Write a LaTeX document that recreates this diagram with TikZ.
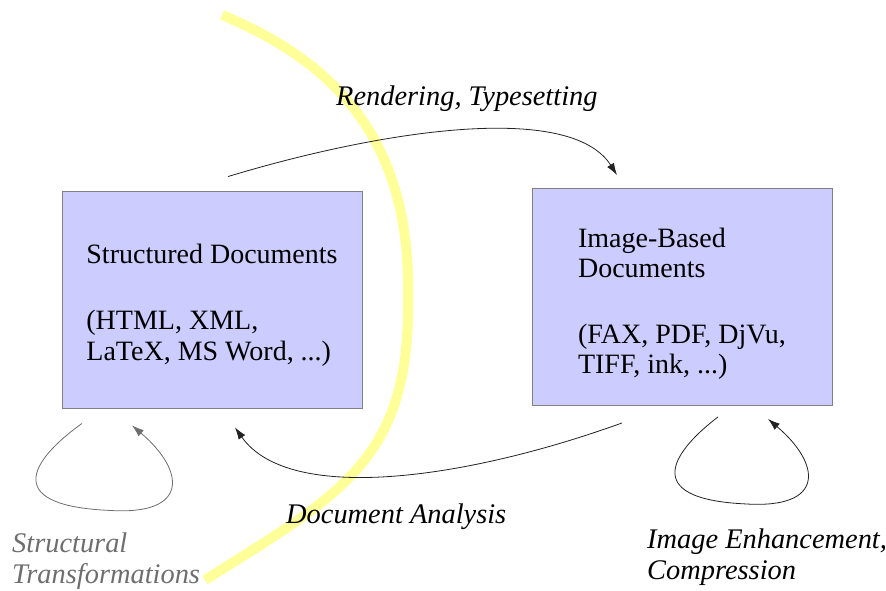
\documentclass[tikz,border=0pt]{standalone}
\usepackage{fontspec}
\setmainfont{Liberation Serif}
\usepackage{xcolor}
\usetikzlibrary{arrows.meta}

\definecolor{boxfill}{HTML}{CCCCFF}
\definecolor{boxline}{HTML}{808080}
\definecolor{marker}{HTML}{FFFF99}
\definecolor{ink}{HTML}{222222}
\definecolor{greyink}{HTML}{6E6E6E}

\begin{document}
\begin{tikzpicture}[x=1pt, y=-1pt,
     box/.style={rectangle, draw=boxline, line width=0.9pt, fill=boxfill, minimum width=300pt, minimum height=217pt, align=left, font=\fontsize{28}{31}\selectfont},
     lbl/.style={anchor=west, inner sep=0pt, align=left, font=\fontsize{28.4}{31}\selectfont\itshape},
     flow/.style={draw=ink, line width=0.8pt, -{Latex[length=12pt, width=8pt]}}]
     \useasboundingbox (0,0) rectangle (886,591);

     \draw[marker, line width=10pt] (222,15) .. controls (335,62) and (412,140) .. (408,300) .. controls (410,460) and (340,495) .. (205,580);

     \node[box] (S) at (212,299.5) {\rule{0pt}{30pt}Structured Documents\\[35pt](HTML, XML,\\LaTeX, MS Word, ...)};
     \node[box, font=\fontsize{28}{30}\selectfont] (I) at (682,297) {\rule{0pt}{32pt}Image-Based\\Documents\\[36pt](FAX, PDF, DjVu,\hspace*{8pt}\\TIFF, ink, ...)};

     \node[lbl] (R) at (336,99) {Rendering, Typesetting};
     \node[lbl] (D) at (286,517) {Document Analysis};
     \node[lbl, text=greyink] (T) at (12,561) {Structural\\Transformations};
     \node[lbl] (E) at (647,557) {Image Enhancement,\\Compression};

     \draw[flow] ([shift={(16,-14)}]S.north) .. controls +(152,-46) and +(-47,-74) .. ([shift={(-65,-13)}]I.north);
     \draw[flow] ([shift={(-60,17)}]I.south) .. controls +(-152,55) and +(55,78) .. ([shift={(23,19)}]S.south);
     \draw[flow, draw=greyink] ([shift={(-130,15)}]S.south) .. controls +(-45,32) and +(-115,-5) .. ++(28,87) .. controls +(80,5) and +(53,45) .. ([shift={(-80,17)}]S.south);
     \draw[flow] ([shift={(36,11)}]I.south) .. controls +(-42,32) and +(-110,-5) .. ++(28,87) .. controls +(80,5) and +(53,45) .. ([shift={(86,13)}]I.south);
\end{tikzpicture}
\end{document}
